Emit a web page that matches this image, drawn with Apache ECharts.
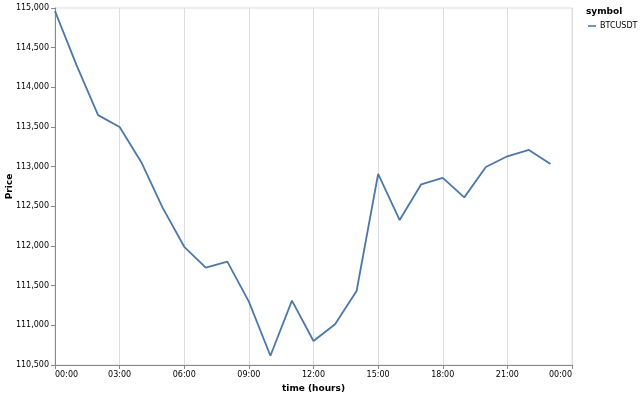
<!DOCTYPE html>
<html><head><meta charset="utf-8">
<script src="https://cdn.jsdelivr.net/npm/echarts@6/dist/echarts.min.js"></script>
<style>html,body{margin:0;padding:0;background:#fff}#c{width:640px;height:395px}</style>
</head><body><div id="c"></div>
<script>
var hours = [0,1,2,3,4,5,6,7,8,9,10,11,12,13,14,15,16,17,18,19,20,21,22,23];
var prices = [114960,114280,113650,113500,113060,112480,111990,111727,111803,111298,110617,111311,110802,111013,111433,112908,112327,112778,112858,112613,112996,113131,113211,113034];
var symbolName = 'BTCUSDT';
var yTicks = {min:110500, max:115000, step:500};
var xTicks = {min:0, max:24, step:3};

var font = 'DejaVu Sans';
var chart = echarts.init(document.getElementById('c'), null, {renderer:'canvas'});
chart.setOption({
  animation:false,
  textStyle:{fontFamily:font},
  grid:{left:55, right:68, top:8, bottom:30, show:true, borderColor:'#ddd', borderWidth:1, containLabel:false, outerBoundsMode:'none'},
  graphic:[{type:'text', left:586, top:7, style:{text:'symbol', font:'bold 9px "DejaVu Sans"', fill:'#000'}}],
  legend:{
    left:583, top:17, orient:'vertical', itemWidth:8, itemHeight:1.6, itemGap:4,
    icon:'rect',
    textStyle:{fontSize:8, color:'#000', fontFamily:font, padding:[0,0,0,-1]},
    data:[symbolName]
  },
  xAxis:{
    type:'value', min:xTicks.min, max:xTicks.max, interval:xTicks.step,
    name:'time (hours)', nameLocation:'middle', nameGap:19,
    nameTextStyle:{fontWeight:'bold', fontSize:9, color:'#000', fontFamily:font},
    axisLine:{show:true, onZero:false, lineStyle:{color:'#888', width:1}},
    axisTick:{show:true, length:4, lineStyle:{color:'#888'}},
    axisLabel:{fontSize:8, color:'#000', margin:6, alignMinLabel:'left', alignMaxLabel:'right',
      formatter:function(v){var h=v%24; return (h<10?'0':'')+h+':00';}},
    splitLine:{show:true, lineStyle:{color:'#ddd', width:1}}
  },
  yAxis:{
    type:'value', min:yTicks.min, max:yTicks.max, interval:yTicks.step,
    name:'Price', nameLocation:'middle', nameGap:41, nameRotate:90, nameMoveOverlap:false,
    nameTextStyle:{fontWeight:'bold', fontSize:9, color:'#000', fontFamily:font},
    axisLine:{show:true, lineStyle:{color:'#888', width:1}},
    axisTick:{show:true, length:4, lineStyle:{color:'#888'}},
    axisLabel:{fontSize:8, color:'#000', margin:6,
      formatter:function(v){return v.toLocaleString('en-US');}},
    splitLine:{show:false}
  },
  series:[{
    name:symbolName, type:'line', showSymbol:false, symbol:'none',
    data:hours.map(function(h,i){return [h, prices[i]];}),
    lineStyle:{color:'#4c78a8', width:1.8}, itemStyle:{color:'#4c78a8'}
  }]
});
</script></body></html>
